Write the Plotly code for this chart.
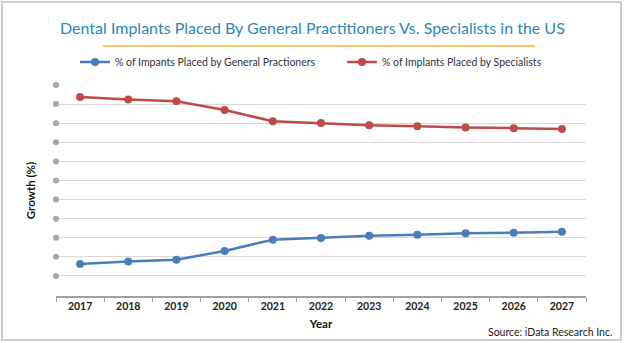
import plotly.graph_objects as go

# Share of US dental implant placements by provider type (%)
years = [2017, 2018, 2019, 2020, 2021, 2022, 2023, 2024, 2025, 2026, 2027]
general_practitioners = [6.3, 7.6, 8.5, 13.1, 19.0, 19.9, 21.1, 21.6, 22.3, 22.6, 23.1]
specialists = [93.7, 92.4, 91.5, 86.9, 81.0, 80.1, 78.9, 78.4, 77.7, 77.4, 76.9]
y_grid = [0, 10, 20, 30, 40, 50, 60, 70, 80, 90, 100]

W, H = 624, 343
ML, MR, MT, MB = 56, 38, 85, 47

BLUE = "#4a7ebb"
RED = "#be4b48"
FONT = "Lato, 'Open Sans', sans-serif"

pw, ph = W - ML - MR, H - MT - MB
def px(x):
    return (x - ML) / pw
def py(y):
    return (H - MB - y) / ph

fig = go.Figure()

fig.add_trace(go.Scatter(
    x=years, y=general_practitioners, mode="lines+markers",
    name="% of Impants Placed by General Practioners",
    line=dict(color=BLUE, width=2.5), marker=dict(color=BLUE, size=8),
    legend="legend",
))
fig.add_trace(go.Scatter(
    x=years, y=specialists, mode="lines+markers",
    name="% of Implants Placed by Specialists",
    line=dict(color=RED, width=2.5), marker=dict(color=RED, size=8),
    legend="legend2",
))
# grey dot markers standing in for the y tick labels
fig.add_trace(go.Scatter(
    x=[years[0] - 0.5] * len(y_grid), y=y_grid, mode="markers",
    marker=dict(color="#a6a6a6", size=6), cliponaxis=False,
    showlegend=False, hoverinfo="skip",
))

boundaries = [y - 0.5 for y in years] + [years[-1] + 0.5]

fig.update_xaxes(
    range=[years[0] - 0.5, years[-1] + 0.5],
    tickmode="array", tickvals=years, ticktext=[f"<b>{y}</b>" for y in years],
    ticks="", showgrid=False, zeroline=False,
    showline=True, linecolor="#a0a0a0", linewidth=1.5,
    minor=dict(tickmode="array", tickvals=boundaries, ticks="outside",
               ticklen=4, tickcolor="#a0a0a0", tickwidth=1, showgrid=False),
    tickfont=dict(family=FONT, size=10.5, color="#222222"),
    title=dict(text="<b>Year</b>", font=dict(family=FONT, size=11.5, color="#111111"),
               standoff=9),
)
fig.update_yaxes(
    range=[-10.5, 100], tickmode="array", tickvals=y_grid, showticklabels=False,
    showgrid=True, gridcolor="#d9d9d9", gridwidth=1, zeroline=False,
    showline=False,
    title=dict(text="<b>Growth (%)</b>", font=dict(family=FONT, size=11.5, color="#111111"),
               standoff=16),
)

# outer frame around the whole graphic
fig.add_shape(type="rect", xref="paper", yref="paper",
              x0=px(2), x1=px(W - 3), y0=py(H - 3), y1=py(2),
              line=dict(color="#cccccc", width=2), fillcolor="rgba(0,0,0,0)",
              layer="below")
# gold rule under the title
fig.add_shape(type="line", xref="paper", yref="paper",
              x0=px(103), x1=px(535), y0=py(46), y1=py(46),
              line=dict(color="#f0c96b", width=2))

fig.add_annotation(
    text="Dental Implants Placed By General Practitioners Vs. Specialists in the US",
    xref="paper", yref="paper", x=px(312), y=py(27), xanchor="center", yanchor="middle",
    showarrow=False, font=dict(family=FONT, size=16, color="#2e86b3"),
)
fig.add_annotation(
    text="Source: iData Research Inc.",
    xref="paper", yref="paper", x=px(614), y=py(332), xanchor="right", yanchor="middle",
    showarrow=False, font=dict(family=FONT, size=10.5, color="#222222"),
)

legend_style = dict(orientation="h", yanchor="middle", y=py(62), xanchor="left",
                    font=dict(family=FONT, size=10.5, color="#333333"),
                    itemwidth=30, bgcolor="rgba(0,0,0,0)")

fig.update_layout(
    width=W, height=H,
    margin=dict(l=ML, r=MR, t=MT, b=MB),
    paper_bgcolor="white", plot_bgcolor="white",
    font=dict(family=FONT, color="#333333"),
    showlegend=True,
    legend=dict(legend_style, x=px(75)),
    legend2=dict(legend_style, x=px(342)),
)

fig.write_html("out.html")
